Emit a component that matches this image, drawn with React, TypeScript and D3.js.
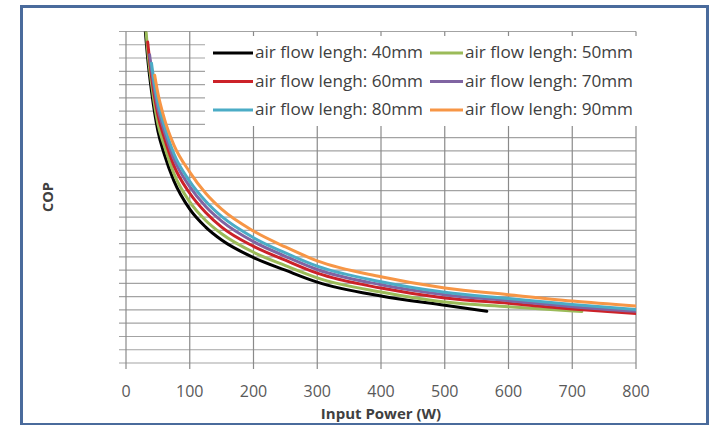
import React from "react";
import * as d3 from "d3";

// Air flow lengths of the six series
const lengths = ["40mm", "50mm", "60mm", "70mm", "80mm", "90mm"];
const colors = ["#000000", "#9bbb59", "#cc2229", "#8064a2", "#4bacc6", "#f79646"];

// Input power (W) and COP for each air flow length
const power40 = [27, 35, 40, 50, 60, 75, 100, 125, 150, 200, 250, 300, 400, 500, 566];
const cop40 = [5.4, 4.5, 4.1, 3.5, 3.15, 2.75, 2.32, 2.05, 1.855, 1.59, 1.4, 1.22, 1.01, 0.87, 0.78];
const power50 = [29, 35, 40, 50, 60, 75, 100, 125, 150, 200, 250, 300, 400, 500, 600, 715];
const cop50 = [5.3, 4.62, 4.22, 3.61, 3.28, 2.86, 2.43, 2.15, 1.95, 1.67, 1.47, 1.285, 1.07, 0.92, 0.85, 0.775];
const power60 = [34, 40, 50, 60, 75, 100, 125, 150, 200, 250, 300, 400, 500, 600, 700, 800];
const cop60 = [4.84, 4.33, 3.74, 3.4, 2.98, 2.56, 2.27, 2.05, 1.76, 1.55, 1.355, 1.13, 0.98, 0.9, 0.815, 0.747];
const power70 = [37, 42, 50, 60, 75, 100, 125, 150, 200, 250, 300, 400, 500, 600, 700, 800];
const cop70 = [4.65, 4.29, 3.84, 3.5, 3.08, 2.66, 2.36, 2.14, 1.83, 1.61, 1.41, 1.18, 1.03, 0.94, 0.85, 0.78];
const power80 = [40, 45, 50, 60, 75, 100, 125, 150, 200, 250, 300, 400, 500, 600, 700, 800];
const cop80 = [4.52, 4.19, 3.93, 3.58, 3.16, 2.74, 2.44, 2.21, 1.89, 1.66, 1.46, 1.225, 1.066, 0.973, 0.882, 0.807];
const power90 = [45, 50, 60, 75, 100, 125, 150, 200, 250, 300, 400, 500, 600, 700, 800];
const cop90 = [4.34, 4.07, 3.69, 3.29, 2.88, 2.56, 2.32, 1.99, 1.75, 1.54, 1.3, 1.13, 1.03, 0.935, 0.86];

const xTicks = [0, 100, 200, 300, 400, 500, 600, 700, 800];

const powers = [power40, power50, power60, power70, power80, power90];
const cops = [cop40, cop50, cop60, cop70, cop80, cop90];

export default function App() {
  const W = 713;
  const H = 425;
  const left = 126;
  const right = 636;
  const top = 31.5;
  const bottom = 363;

  const x = d3.scaleLinear().domain([0, 800]).range([left, right]);
  const y = d3.scaleLinear().domain([0, 5]).range([bottom, top]);
  const yGrid = d3.range(0, 25.5, 1).map((i) => i * 0.2);

  const line = d3
    .line<[number, number]>()
    .x((d) => x(d[0]))
    .y((d) => y(d[1]))
    .curve(d3.curveMonotoneX);

  const series = lengths.map((name, i) => ({
    name,
    color: colors[i],
    points: powers[i].map((p, j) => [p, cops[i][j]] as [number, number]),
  }));

  const font = "'Open Sans', 'Liberation Sans', sans-serif";

  // legend layout
  const legend = { x0: 205, y0: 36, x1: 641, y1: 126 };
  const legendCols = [213, 430];
  const legendRows = [53, 81.5, 110];

  return (
    <svg
      width={W}
      height={H}
      style={{ position: "absolute", left: 0, top: 0, background: "#fff" }}
      fontFamily={font}
    >
      <defs>
        <clipPath id="plotClip">
          <rect x={left} y={top} width={right - left} height={bottom - top} />
        </clipPath>
      </defs>
      <rect x={0} y={0} width={W} height={H} fill="#ffffff" />
      <rect x={21.5} y={6.5} width={686} height={418} fill="#ffffff" stroke="#4a6b9c" strokeWidth={3} />

      {/* horizontal gridlines with left tick marks */}
      {yGrid.map((v, i) => (
        <line
          key={"h" + i}
          x1={left - 7}
          x2={right}
          y1={y(v)}
          y2={y(v)}
          stroke="#a3a3a3"
          strokeWidth={1.2}
        />
      ))}
      {/* vertical gridlines with bottom tick marks */}
      {xTicks.map((t) => (
        <line
          key={"v" + t}
          x1={x(t)}
          x2={x(t)}
          y1={top}
          y2={bottom + 6}
          stroke="#8a8a8a"
          strokeWidth={1.2}
        />
      ))}

      {/* legend box */}
      <rect x={legend.x0} y={legend.y0} width={legend.x1 - legend.x0} height={legend.y1 - legend.y0} fill="#ffffff" />

      {/* series */}
      <g clipPath="url(#plotClip)">
        {series.map((s) => (
          <path
            key={s.name}
            d={line(s.points) || ""}
            fill="none"
            stroke={s.color}
            strokeWidth={3}
            strokeLinejoin="round"
            strokeLinecap="round"
          />
        ))}
      </g>

      {/* legend entries */}
      {series.map((s, i) => {
        const col = i % 2;
        const row = Math.floor(i / 2);
        const lx = legendCols[col];
        const ly = legendRows[row];
        const lw = col === 0 ? 40 : 33;
        return (
          <g key={"lg" + s.name}>
            <line x1={lx} x2={lx + lw} y1={ly} y2={ly} stroke={s.color} strokeWidth={3} />
            <text
              x={lx + lw + 2}
              y={ly + 5}
              fontSize={15.5}
              fill="#404040"
              textLength={168}
              lengthAdjust="spacingAndGlyphs"
            >
              {"air flow lengh: " + s.name}
            </text>
          </g>
        );
      })}

      {/* x tick labels */}
      {xTicks.map((t) => (
        <text key={"xl" + t} x={x(t)} y={397} fontSize={16} fill="#595959" textAnchor="middle">
          {t}
        </text>
      ))}

      {/* axis titles */}
      <text x={381} y={419} fontSize={15} fontWeight="bold" fill="#404040" textAnchor="middle">
        Input Power (W)
      </text>
      <text
        transform="translate(53,197) rotate(-90)"
        fontSize={14.5}
        fontWeight="bold"
        fill="#404040"
        textAnchor="middle"
      >
        COP
      </text>
    </svg>
  );
}
